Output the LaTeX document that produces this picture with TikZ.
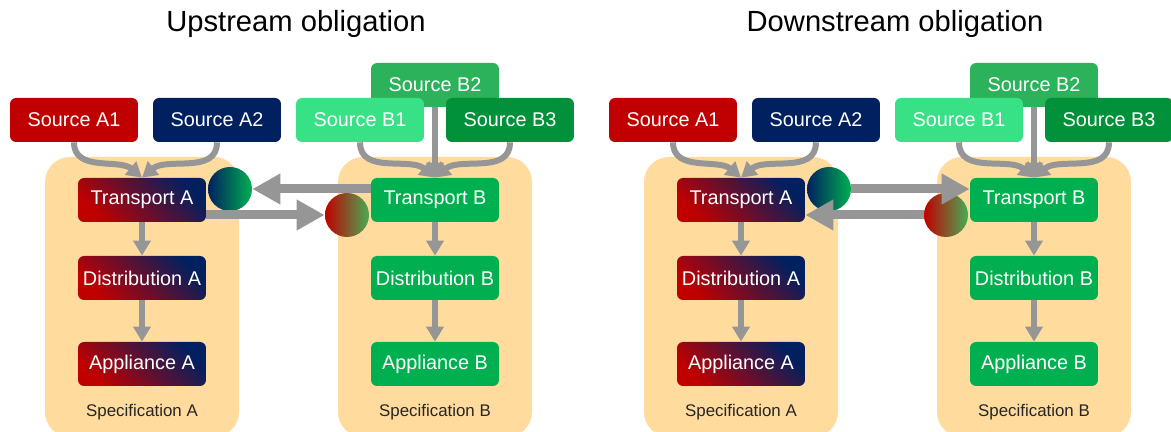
\documentclass[tikz,border=0pt]{standalone}
\usepackage{fontspec}
\setmainfont{Liberation Sans}
\usetikzlibrary{arrows.meta}
\definecolor{srcred}{RGB}{192,0,0}
\definecolor{srcblue}{RGB}{0,32,96}
\definecolor{lightgrn}{RGB}{56,224,134}
\definecolor{midgrn}{RGB}{44,178,90}
\definecolor{darkgrn}{RGB}{0,145,58}
\definecolor{boxgrn}{RGB}{0,176,80}
\definecolor{mixgrn}{RGB}{72,172,84}
\definecolor{specbg}{RGB}{255,220,158}
\definecolor{flowgray}{RGB}{150,150,150}
\begin{document}
\begin{tikzpicture}[x=0.02cm, y=0.02cm,
  box/.style={rounded corners=0.12cm, minimum width=2.56cm, minimum height=0.88cm, inner sep=0pt, text=white, font=\fontsize{11.3}{13}\selectfont},
  agrad/.style={box, top color=srcblue, bottom color=srcred, shading angle=-45},
  bbox/.style={box, fill=boxgrn},
  seal/.style={circle, minimum size=0.88cm, inner sep=0pt},
  spec/.style={fill=specbg, rounded corners=0.5cm},
  flow/.style={draw=flowgray, line width=0.12cm, -{Triangle[length=0.3cm,width=0.34cm]}},
  bigflow/.style={draw=flowgray, line width=0.18cm, -{Triangle[length=0.56cm,width=0.58cm]}},
  title/.style={anchor=base, font=\fontsize{16.6}{19}\selectfont},
  speclabel/.style={text=black!85, font=\fontsize{9.6}{11}\selectfont}]
\useasboundingbox (0,0) rectangle (1171,432);
\fill[spec] (45,-5) rectangle (239,275);
\fill[spec] (338,-5) rectangle (532,275);
\fill[spec] (644,-5) rectangle (838,275);
\fill[spec] (937,-5) rectangle (1131,275);
% upstream
\node[title] (up-title) at (296,400) {Upstream obligation};
\node[box, fill=srcred] (up-a1) at (74,312) {Source A1};
\node[box, fill=srcblue] (up-a2) at (217,312) {Source A2};
\node[box, fill=midgrn] (up-b2) at (435,347) {Source B2};
\node[box, fill=lightgrn] (up-b1) at (360,312) {Source B1};
\node[box, fill=darkgrn] (up-b3) at (510,312) {Source B3};
\node[agrad] (up-ta) at (142,232) {Transport A};
\node[agrad] (up-da) at (142,154) {Distribution A};
\node[agrad] (up-pa) at (142,68) {Appliance A};
\node[bbox] (up-tb) at (435,232) {Transport B};
\node[bbox] (up-db) at (435,154) {Distribution B};
\node[bbox] (up-pb) at (435,68) {Appliance B};
\node[speclabel] (up-sa) at (142,20) {Specification A};
\node[speclabel] (up-sb) at (435,20) {Specification B};
\node[seal, left color=srcblue, right color=boxgrn] (up-ca) at (230,243) {};
\node[seal, left color=srcred, right color=mixgrn] (up-cb) at (347,217) {};
\draw[flow] (up-a1.south) to[out=-90, in=140] (up-ta.north);
\draw[flow] (up-a2.south) to[out=-90, in=40] (up-ta.north);
\draw[flow] (up-b1.south) to[out=-90, in=140] (up-tb.north);
\draw[flow] (up-b3.south) to[out=-90, in=40] (up-tb.north);
\draw[flow] (up-b2.south) -- (up-tb.north);
\draw[flow] (up-ta.south) -- (up-da.north);
\draw[flow] (up-da.south) -- (up-pa.north);
\draw[flow] (up-tb.south) -- (up-db.north);
\draw[flow] (up-db.south) -- (up-pb.north);
\draw[bigflow] (up-ca.east -| up-tb.west) -- (up-ca.east);
\draw[bigflow] (up-ta.east |- up-cb.west) -- (up-cb.west);
% downstream
\node[title] (dn-title) at (895,400) {Downstream obligation};
\node[box, fill=srcred] (dn-a1) at (673,312) {Source A1};
\node[box, fill=srcblue] (dn-a2) at (816,312) {Source A2};
\node[box, fill=midgrn] (dn-b2) at (1034,347) {Source B2};
\node[box, fill=lightgrn] (dn-b1) at (959,312) {Source B1};
\node[box, fill=darkgrn] (dn-b3) at (1109,312) {Source B3};
\node[agrad] (dn-ta) at (741,232) {Transport A};
\node[agrad] (dn-da) at (741,154) {Distribution A};
\node[agrad] (dn-pa) at (741,68) {Appliance A};
\node[bbox] (dn-tb) at (1034,232) {Transport B};
\node[bbox] (dn-db) at (1034,154) {Distribution B};
\node[bbox] (dn-pb) at (1034,68) {Appliance B};
\node[speclabel] (dn-sa) at (741,20) {Specification A};
\node[speclabel] (dn-sb) at (1034,20) {Specification B};
\node[seal, left color=srcblue, right color=boxgrn] (dn-ca) at (829,243) {};
\node[seal, left color=srcred, right color=mixgrn] (dn-cb) at (946,217) {};
\draw[flow] (dn-a1.south) to[out=-90, in=140] (dn-ta.north);
\draw[flow] (dn-a2.south) to[out=-90, in=40] (dn-ta.north);
\draw[flow] (dn-b1.south) to[out=-90, in=140] (dn-tb.north);
\draw[flow] (dn-b3.south) to[out=-90, in=40] (dn-tb.north);
\draw[flow] (dn-b2.south) -- (dn-tb.north);
\draw[flow] (dn-ta.south) -- (dn-da.north);
\draw[flow] (dn-da.south) -- (dn-pa.north);
\draw[flow] (dn-tb.south) -- (dn-db.north);
\draw[flow] (dn-db.south) -- (dn-pb.north);
\draw[bigflow] (dn-ca.east) -- (dn-ca.east -| dn-tb.west);
\draw[bigflow] (dn-cb.west) -- (dn-cb.west -| dn-ta.east);
\end{tikzpicture}
\end{document}
